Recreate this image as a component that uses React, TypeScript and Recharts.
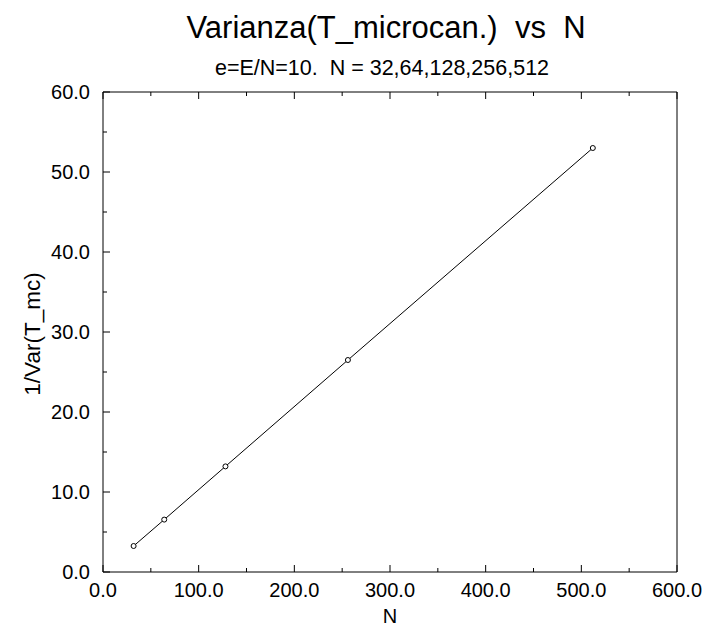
import React from "react";
import { LineChart, Line, XAxis, YAxis } from "recharts";

// N values and measured 1/Var(T_mc)
const nValues = [32, 64, 128, 256, 512];
const invVar = [3.25, 6.55, 13.2, 26.5, 53.0];

const xTicks = [0, 50, 100, 150, 200, 250, 300, 350, 400, 450, 500, 550, 600];
const yTicks = [0, 5, 10, 15, 20, 25, 30, 35, 40, 45, 50, 55, 60];

const data = nValues.map((n, i) => ({ n, v: invVar[i] }));

const FONT = "'Liberation Sans', Arial, Helvetica, sans-serif";
const MAJOR = 7;
const MINOR = 4;

const BottomTick = (props: any) => {
  const { x, y, payload } = props;
  const major = payload.value % 100 === 0;
  return (
    <g>
      <line x1={x} y1={y} x2={x} y2={y - (major ? MAJOR : MINOR)} stroke="#000" />
      {major && (
        <text x={x} y={y + 25} textAnchor="middle" fontSize={20} fontFamily={FONT} fill="#000">
          {payload.value.toFixed(1)}
        </text>
      )}
    </g>
  );
};

const TopTick = (props: any) => {
  const { x, y, payload } = props;
  const major = payload.value % 100 === 0;
  return <line x1={x} y1={y} x2={x} y2={y + (major ? MAJOR : MINOR)} stroke="#000" />;
};

const LeftTick = (props: any) => {
  const { x, y, payload } = props;
  const major = payload.value % 10 === 0;
  return (
    <g>
      <line x1={x} y1={y} x2={x + (major ? MAJOR : MINOR)} y2={y} stroke="#000" />
      {major && (
        <text x={x - 13} y={y + 7} textAnchor="end" fontSize={20} fontFamily={FONT} fill="#000">
          {payload.value.toFixed(1)}
        </text>
      )}
    </g>
  );
};

const RightTick = (props: any) => {
  const { x, y, payload } = props;
  const major = payload.value % 10 === 0;
  return <line x1={x} y1={y} x2={x - (major ? MAJOR : MINOR)} y2={y} stroke="#000" />;
};

export default function App() {
  return (
    <div style={{ position: "absolute", left: 0, top: 0, width: 708, height: 631, background: "#fff" }}>
      <LineChart width={708} height={631} data={data} margin={{ top: 91, right: 30, bottom: 58, left: 102 }}>
        <XAxis
          xAxisId="b"
          dataKey="n"
          type="number"
          domain={[0, 600]}
          ticks={xTicks}
          interval={0}
          height={1}
          tickSize={0}
          tickMargin={0}
          tickLine={false}
          axisLine={{ stroke: "#000" }}
          tick={<BottomTick />}
        />
        <XAxis
          xAxisId="t"
          orientation="top"
          dataKey="n"
          type="number"
          domain={[0, 600]}
          ticks={xTicks}
          interval={0}
          height={1}
          tickSize={0}
          tickMargin={0}
          tickLine={false}
          axisLine={{ stroke: "#000" }}
          tick={<TopTick />}
        />
        <YAxis
          yAxisId="l"
          type="number"
          domain={[0, 60]}
          ticks={yTicks}
          interval={0}
          width={1}
          tickSize={0}
          tickMargin={0}
          tickLine={false}
          axisLine={{ stroke: "#000" }}
          tick={<LeftTick />}
        />
        <YAxis
          yAxisId="r"
          orientation="right"
          type="number"
          domain={[0, 60]}
          ticks={yTicks}
          interval={0}
          width={1}
          tickSize={0}
          tickMargin={0}
          tickLine={false}
          axisLine={{ stroke: "#000" }}
          tick={<RightTick />}
        />
        <Line
          xAxisId="b"
          yAxisId="l"
          dataKey="v"
          type="linear"
          stroke="#000"
          strokeWidth={1}
          dot={{ r: 2.5, fill: "#fff", stroke: "#000", strokeWidth: 1 }}
          isAnimationActive={false}
        />
      </LineChart>
      <svg
        width={708}
        height={631}
        style={{ position: "absolute", left: 0, top: 0, pointerEvents: "none" }}
      >
        <text x={386} y={38} textAnchor="middle" fontSize={31} fontFamily={FONT} fill="#000" style={{ whiteSpace: "pre" }}>
          Varianza(T_microcan.)  vs  N
        </text>
        <text x={382} y={75} textAnchor="middle" fontSize={21.5} fontFamily={FONT} fill="#000" style={{ whiteSpace: "pre" }}>
          e=E/N=10.  N = 32,64,128,256,512
        </text>
        <text x={390} y={623} textAnchor="middle" fontSize={20} fontFamily={FONT} fill="#000">
          N
        </text>
        <text
          x={0}
          y={0}
          transform="translate(40,334) rotate(-90)"
          textAnchor="middle"
          fontSize={22.5}
          fontFamily={FONT}
          fill="#000"
        >
          1/Var(T_mc)
        </text>
      </svg>
    </div>
  );
}
